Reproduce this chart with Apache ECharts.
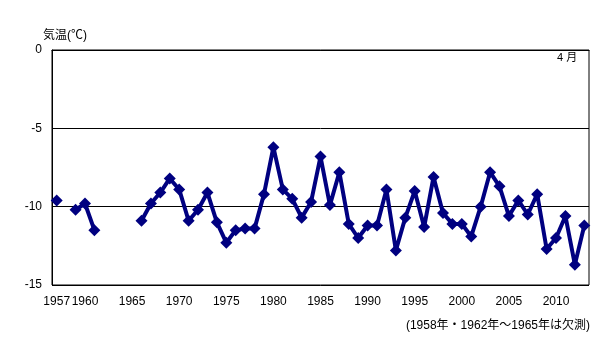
<!DOCTYPE html>
<html>
<head>
<meta charset="utf-8">
<script src="https://cdn.jsdelivr.net/npm/echarts@6/dist/echarts.min.js"></script>
<style>
  html, body { margin: 0; padding: 0; background: #fff; }
  #chart { width: 605px; height: 342px; }
</style>
</head>
<body>
<div id="chart"></div>
<script>
// Years 1957–2013 (April mean temperature, °C); null = no observation
const years = [];
for (let y = 1957; y <= 2013; y++) years.push(String(y));

const temps = [
  -9.6, null, -10.2, -9.8, -11.5, null, null, null, null,       // 1957–1965
  -10.9, -9.8, -9.1, -8.2, -8.9, -10.9, -10.2, -9.1, -11.0,     // 1966–1974
  -12.3, -11.5, -11.4, -11.4, -9.2, -6.2, -8.9, -9.5, -10.7,    // 1975–1983
  -9.7, -6.8, -9.9, -7.8, -11.1, -12.0, -11.2, -11.2, -8.9,     // 1984–1992
  -12.8, -10.7, -9.0, -11.3, -8.1, -10.4, -11.1, -11.1, -11.9,  // 1993–2001
  -10.0, -7.8, -8.7, -10.6, -9.6, -10.5, -9.2, -12.7, -12.0,    // 2002–2010
  -10.6, -13.7, -11.2                                            // 2011–2013
];

const xTickYears = ['1957', '1960', '1965', '1970', '1975', '1980', '1985', '1990', '1995', '2000', '2005', '2010'];

const yAxisName = '気温(℃)';
const monthLabel = '4 月';
const footnote = '(1958年・1962年～1965年は欠測)';

const font = '"Liberation Sans", "Noto Sans CJK JP", sans-serif';
const chart = echarts.init(document.getElementById('chart'), null, { renderer: 'canvas' });

chart.setOption({
  animation: false,
  textStyle: { fontFamily: font },
  grid: {
    left: 52, right: 16, top: 50, bottom: 57,
    show: true, borderColor: '#000', borderWidth: 1, backgroundColor: 'transparent'
  },
  graphic: [
    { type: 'text', left: 43, top: 30, style: { text: yAxisName, font: '12px ' + font, fill: '#000' } },
    { type: 'text', left: 557, top: 52, style: { text: monthLabel, font: '11px ' + font, fill: '#000' } },
    { type: 'text', right: 15, top: 320, style: { text: footnote, font: '12px ' + font, fill: '#000' } }
  ],
  xAxis: {
    type: 'category',
    data: years,
    boundaryGap: true,
    axisLine: { show: true, lineStyle: { color: '#000', width: 1 } },
    axisTick: { show: false },
    splitLine: { show: false },
    axisLabel: {
      color: '#000', fontSize: 12, margin: 11,
      interval: (idx, val) => xTickYears.includes(val),
      formatter: v => v
    }
  },
  yAxis: {
    type: 'value',
    min: -15, max: 0, interval: 5,
    axisLine: { show: true, lineStyle: { color: '#000', width: 1 } },
    axisTick: { show: false },
    splitLine: { show: true, lineStyle: { color: '#000', width: 1 } },
    axisLabel: { color: '#000', fontSize: 12, margin: 10 }
  },
  series: [{
    type: 'line',
    data: temps,
    connectNulls: false,
    showSymbol: true,
    showAllSymbol: true,
    symbol: 'diamond',
    symbolSize: 12,
    itemStyle: { color: '#000080' },
    lineStyle: { color: '#000080', width: 4 }
  }]
});
</script>
</body>
</html>
